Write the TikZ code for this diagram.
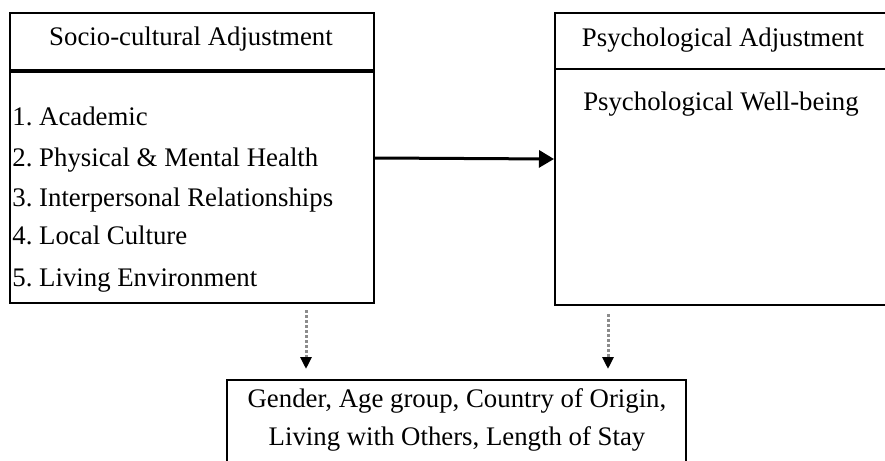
\documentclass[tikz,border=0pt]{standalone}
\usepackage{fontspec}
\setmainfont{Liberation Serif}
\usepackage{tikz}
\usetikzlibrary{arrows.meta, positioning, calc}
\definecolor{dotgray}{RGB}{140, 140, 140}
\tikzset{
  box/.style={draw, line width=1pt, inner sep=0pt},
  lbl/.style={font=\fontsize{13.4}{15}\selectfont, inner sep=0pt},
  mainarrow/.style={line width=1.5pt, -{Triangle[length=7.5pt, width=8.5pt]}},
  dotarrow/.style={dotgray, line width=1.5pt, densely dotted, -{Triangle[black, length=6pt, width=5.5pt]}}
}

\begin{document}
\frenchspacing
\begin{tikzpicture}[x=0.5pt, y=-0.5pt]
  \useasboundingbox (0, 0) rectangle (885, 461);
  \clip (0, 0) rectangle (885, 461);

  % Boxes
  \node[box, minimum width=182pt, minimum height=145pt] (soc) at (192, 158) {};
  \node[box, minimum width=168pt, minimum height=146pt] (psy) at (723, 159) {};
  \node[box, minimum width=229.5pt, minimum height=50pt] (demo) at (456.5, 430) {};

  % Header lines
  \draw[line width=2pt] (soc.west |- 0, 71) -- (soc.east |- 0, 71);
  \draw[line width=1.2pt] (psy.west |- 0, 69) -- (psy.east |- 0, 69);

  % Titles
  \node[lbl] (soctitle) at (191, 39) {Socio-cultural Adjustment};
  \node[lbl] (psytitle) at (723, 40) {Psychological Adjustment};
  \node[lbl] (wellbeing) at (721, 104) {Psychological Well-being};

  % Items
  \foreach \i/\y/\txt in {1/125/Academic, 2/166/Physical \& Mental Health,
      3/206/Interpersonal Relationships, 4/244/Local Culture, 5/286/Living Environment} {
    \node[lbl, anchor=base west] (item\i) at (12, \y) {\i.\ \txt};
  }

  % Demographics
  \node[lbl] (demo1) at (457, 401) {Gender, Age group, Country of Origin,};
  \node[lbl] (demo2) at (457, 439) {Living with Others, Length of Stay};

  % Arrows
  \draw[mainarrow] (soc.east) -- (psy.west);
  \coordinate (d1) at (306, 310);
  \coordinate (d2) at (608, 314);
  \draw[dotarrow, shorten >=5pt] (d1) -- (d1 |- demo.north);
  \draw[dotarrow, shorten >=5pt] (d2) -- (d2 |- demo.north);
\end{tikzpicture}
\end{document}
